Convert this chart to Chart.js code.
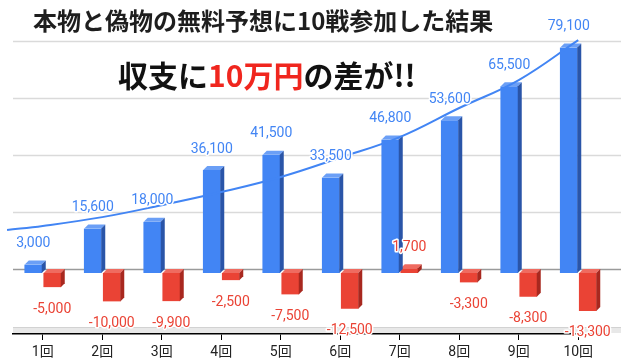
<!DOCTYPE html>
<html>
<head>
<meta charset="utf-8">
<script src="https://cdn.jsdelivr.net/npm/chart.js@4.4.1/dist/chart.umd.min.js"></script>
<style>
body { margin: 0; background: #fff; }
#wrap { width: 640px; height: 363px; }
</style>
</head>
<body>
<div id="wrap"><canvas id="myChart"></canvas></div>
<script>
var rounds = ['1回', '2回', '3回', '4回', '5回', '6回', '7回', '8回', '9回', '10回'];
var honmono = [3000, 15600, 18000, 36100, 41500, 33500, 46800, 53600, 65500, 79100];
var nisemono = [-5000, -10000, -9900, -2500, -7500, -12500, 1700, -3300, -8300, -13300];
// trend line (x = round index, 0 = 1回)
var trendX = [-0.6, 0, 1, 2, 3, 4, 5, 6, 7, 8, 9];
var trendY = [13700, 15100, 18200, 22400, 27000, 32300, 39100, 46300, 56500, 66300, 80300];
var gridValues = [0, 20000, 40000, 60000, 80000];

var title = '本物と偽物の無料予想に10戦参加した結果';
var subParts = [['収支に', '#111111'], ['10万円', '#f0261e'], ['の差が!!', '#111111']];

var depth = 4;
var inset = 1;
var jp = "'Noto Sans CJK JP', sans-serif";

function poly(ctx, pts, color) {
    ctx.beginPath();
    ctx.moveTo(pts[0][0], pts[0][1]);
    for (var i = 1; i < pts.length; i++) ctx.lineTo(pts[i][0], pts[i][1]);
    ctx.closePath();
    ctx.fillStyle = color;
    ctx.fill();
}

var threeD = {
    id: 'threeD',
    beforeDatasetsDraw: function (chart) {
        var ctx = chart.ctx, area = chart.chartArea, y = chart.scales.y;
        ctx.save();
        // floor
        ctx.fillStyle = '#e8e8e8';
        ctx.fillRect(area.left, area.bottom - 7, area.right - area.left + 13, 6);
        ctx.fillStyle = '#d2d2d2';
        ctx.fillRect(area.left, area.bottom - 7, area.right - area.left + 13, 1);
        // back plane grid
        gridValues.forEach(function (v) {
            var py = Math.round(y.getPixelForValue(v) - depth) + 0.5;
            ctx.beginPath();
            ctx.moveTo(area.left, py);
            ctx.lineTo(area.right + 13, py);
            ctx.lineWidth = 1.5;
            ctx.strokeStyle = v === 0 ? '#9a9a9a' : '#dadada';
            ctx.stroke();
        });
        ctx.restore();
    },
    beforeDatasetDraw: function (chart, args) {
        if (args.meta.type === 'line') {
            chart.ctx.save();
            chart.ctx.translate(0, -depth);
        }
    },
    afterDatasetDraw: function (chart, args) {
        var ctx = chart.ctx;
        if (args.meta.type === 'line') {
            ctx.restore();
            return;
        }
        var ds = chart.data.datasets[args.index];
        ctx.save();
        args.meta.data.forEach(function (bar) {
            var p = bar.getProps(['x', 'y', 'base', 'width'], true);
            var x1 = p.x - p.width / 2 + inset, x2 = p.x + p.width / 2 - inset;
            var top = Math.min(p.y, p.base), bottom = Math.max(p.y, p.base);
            poly(ctx, [[x1, top], [x2, top], [x2 + depth, top - depth], [x1 + depth, top - depth]], ds.topColor);
            poly(ctx, [[x2, top], [x2 + depth, top - depth], [x2 + depth, bottom - depth], [x2, bottom]], ds.sideColor);
        });
        ctx.restore();
    },
    afterDatasetsDraw: function (chart) {
        var ctx = chart.ctx;
        ctx.save();
        ctx.font = '14px Roboto';
        ctx.textAlign = 'center';
        ctx.textBaseline = 'middle';
        ctx.lineJoin = 'round';
        [0, 1].forEach(function (di) {
            var meta = chart.getDatasetMeta(di);
            var ds = chart.data.datasets[di];
            meta.data.forEach(function (bar, i) {
                var v = ds.data[i].y;
                var p = bar.getProps(['x', 'y'], true);
                var ty = v >= 0 ? p.y - 21 : p.y + 22;
                var txt = v.toLocaleString('en-US');
                ctx.lineWidth = 3;
                ctx.strokeStyle = '#ffffff';
                ctx.strokeText(txt, p.x, ty);
                ctx.fillStyle = ds.labelColor;
                ctx.fillText(txt, p.x, ty);
            });
        });
        ctx.restore();
    },
    afterDraw: function (chart) {
        var ctx = chart.ctx;
        ctx.save();
        ctx.textBaseline = 'middle';
        ctx.textAlign = 'left';
        ctx.font = 'bold 24px ' + jp;
        ctx.fillStyle = '#1e1e1e';
        ctx.fillText(title, 33, 21);
        ctx.font = 'bold 30px ' + jp;
        var x = 118;
        subParts.forEach(function (s) {
            ctx.fillStyle = s[1];
            ctx.fillText(s[0], x, 76);
            x += ctx.measureText(s[0]).width;
        });
        ctx.restore();
    }
};

function points(values) {
    return values.map(function (v, i) { return { x: i, y: v }; });
}

var barBorder = { left: inset, right: inset, top: 0, bottom: 0 };

var ctx = document.getElementById('myChart').getContext('2d');
var myChart = new Chart(ctx, {
    type: 'bar',
    data: {
        datasets: [{
            type: 'bar',
            label: '本物',
            data: points(honmono),
            backgroundColor: '#4285f4',
            borderColor: 'rgba(0,0,0,0)',
            borderWidth: barBorder,
            borderSkipped: false,
            topColor: '#6b9ff6',
            sideColor: '#2a55a8',
            labelColor: '#4285f4',
            order: 2
        }, {
            type: 'bar',
            label: '偽物',
            data: points(nisemono),
            backgroundColor: '#ea4335',
            borderColor: 'rgba(0,0,0,0)',
            borderWidth: barBorder,
            borderSkipped: false,
            topColor: '#ef6b60',
            sideColor: '#a8281f',
            labelColor: '#ea4335',
            order: 2
        }, {
            type: 'line',
            label: 'トレンド',
            data: trendX.map(function (x, i) { return { x: x, y: trendY[i] }; }),
            borderColor: '#4285f4',
            borderWidth: 2,
            pointRadius: 0,
            tension: 0.4,
            clip: false,
            order: 1
        }]
    },
    options: {
        responsive: true,
        maintainAspectRatio: false,
        animation: false,
        layout: { padding: { left: 13, right: 32, top: 45, bottom: 0 } },
        plugins: { legend: { display: false }, tooltip: { enabled: false } },
        datasets: { bar: { barThickness: 19 } },
        scales: {
            x: {
                type: 'linear',
                min: -0.5,
                max: 9.5,
                offset: false,
                afterBuildTicks: function (scale) {
                    scale.ticks = rounds.map(function (r, i) { return { value: i }; });
                },
                grid: { offset: false, drawOnChartArea: false, drawTicks: true, tickLength: 6, color: '#000000' },
                border: { display: true, color: '#000000', width: 1.5 },
                ticks: {
                    autoSkip: false,
                    maxRotation: 0,
                    color: '#222222',
                    font: { family: "Roboto, 'Noto Sans CJK JP'", size: 14 },
                    padding: 4,
                    callback: function (v) { return rounds[v]; }
                },
                afterFit: function (scale) { scale.height = 29; }
            },
            y: { display: false, min: -21400, max: 80000 }
        }
    },
    plugins: [threeD]
});
</script>
</body>
</html>
